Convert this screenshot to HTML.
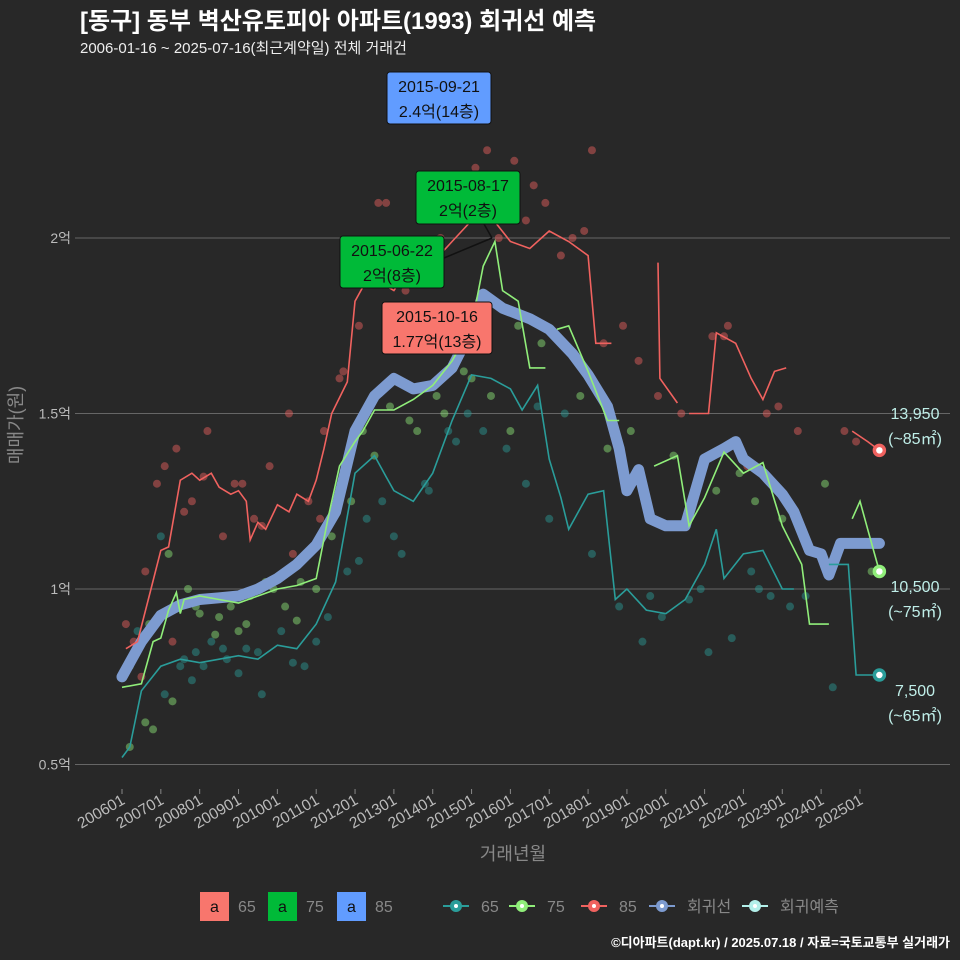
<!DOCTYPE html>
<html><head><meta charset="utf-8">
<style>
body{margin:0;background:#282828;}
svg{display:block;font-family:"Liberation Sans","Noto Sans CJK KR",sans-serif;}
</style></head>
<body>
<svg id="chart" width="960" height="960" viewBox="0 0 960 960">
<rect width="960" height="960" fill="#282828"/>
<text x="80" y="29" fill="#fff" font-size="24" font-weight="bold">[동구] 동부 벽산유토피아 아파트(1993) 회귀선 예측</text>
<text x="80" y="53" fill="#eee" font-size="15">2006-01-16 ~ 2025-07-16(최근계약일) 전체 거래건</text>
<g id="grid"></g><g id="axes"></g><g id="points"></g><g id="lines"></g><g id="annot"></g>
<text transform="translate(22,425) rotate(-90)" fill="#888" font-size="18" text-anchor="middle">매매가(원)</text>
<text x="513" y="860" fill="#888" font-size="18" text-anchor="middle">거래년월</text>
<g id="legend"></g>
<text x="950" y="947" fill="#fff" font-size="13" font-weight="bold" text-anchor="end">©디아파트(dapt.kr) / 2025.07.18 / 자료=국토교통부 실거래가</text>
</svg>
<script>
const yTicks=[0.5,1,1.5,2];
const yTickLabels=["0.5억","1억","1.5억","2억"];
const xTickLabels=["200601","200701","200801","200901","201001","201101","201201","201301","201401","201501","201601","201701","201801","201901","202001","202101","202201","202301","202401","202501"];
const regT=[2006.0,2006.5,2007.0,2007.5,2008.0,2008.5,2009.0,2009.5,2010.0,2010.5,2011.0,2011.5,2012.0,2012.5,2013.0,2013.5,2014.0,2014.5,2015.0,2015.3,2015.8,2016.5,2017.0,2017.6,2018.0,2018.5,2018.8,2019.0,2019.3,2019.6,2020.0,2020.5,2021.0,2021.5,2021.8,2022.0,2022.5,2023.0,2023.3,2023.7,2024.0,2024.2,2024.5,2025.0,2025.5];
const regV=[0.75,0.85,0.925,0.955,0.97,0.975,0.98,1.0,1.03,1.07,1.125,1.22,1.45,1.55,1.6,1.57,1.58,1.63,1.74,1.84,1.8,1.77,1.74,1.67,1.61,1.52,1.4,1.28,1.34,1.2,1.18,1.18,1.37,1.4,1.42,1.37,1.33,1.27,1.22,1.11,1.1,1.04,1.13,1.13,1.13];
const s85=[[[2006.1,0.83],[2006.4,0.85],[2006.7,0.98],[2007.0,1.11],[2007.2,1.12],[2007.5,1.31],[2007.8,1.33],[2008.0,1.31],[2008.3,1.33],[2008.5,1.29],[2008.8,1.27],[2009.0,1.28],[2009.2,1.25],[2009.3,1.14],[2009.5,1.19],[2009.7,1.17],[2010.0,1.24],[2010.3,1.22],[2010.5,1.27],[2010.8,1.25],[2011.0,1.31],[2011.2,1.4],[2011.4,1.5],[2011.8,1.59],[2012.0,1.82],[2012.2,1.86],[2012.5,1.91],[2012.7,1.87],[2013.0,1.85],[2013.3,1.9],[2013.5,1.88],[2014.0,1.93],[2014.5,1.99],[2015.0,2.05],[2015.5,2.06],[2016.0,1.99],[2016.5,1.97],[2017.0,2.02],[2017.5,1.99],[2018.0,1.95],[2018.2,1.7],[2018.6,1.7]],
 [[2019.8,1.93],[2019.85,1.6],[2020.3,1.53]],[[2020.6,1.5],[2021.1,1.5],[2021.3,1.73],[2021.8,1.7],[2022.2,1.6],[2022.5,1.54],[2022.8,1.62],[2023.1,1.63]],
 [[2024.8,1.45],[2025.2,1.42],[2025.5,1.395]]];
const s75=[[[2006.0,0.72],[2006.5,0.73],[2006.8,0.85],[2007.0,0.86],[2007.2,0.94],[2007.4,0.99],[2007.5,0.93],[2007.6,0.97],[2008.0,0.98],[2008.5,0.97],[2009.0,0.96],[2009.5,0.98],[2010.0,1.0],[2010.5,1.01],[2011.0,1.03],[2011.3,1.2],[2011.6,1.35],[2012.0,1.42],[2012.2,1.45],[2012.5,1.51],[2013.0,1.51],[2013.5,1.54],[2014.0,1.58],[2014.5,1.65],[2015.0,1.75],[2015.3,1.92],[2015.6,1.99],[2015.8,1.85],[2016.2,1.82],[2016.5,1.63],[2016.9,1.63]],
 [[2017.2,1.74],[2017.5,1.75],[2018.0,1.62],[2018.5,1.48],[2018.8,1.48]],[[2019.7,1.35],[2020.3,1.38],[2020.6,1.18],[2021.0,1.26],[2021.5,1.39],[2022.0,1.33],[2022.5,1.36],[2023.0,1.18],[2023.5,1.07],[2023.7,0.9],[2024.2,0.9]],
 [[2024.8,1.2],[2025.0,1.25],[2025.2,1.17],[2025.5,1.05]]];
const s65=[[[2006.0,0.52],[2006.2,0.55],[2006.5,0.71],[2007.0,0.78],[2007.5,0.8],[2008.0,0.79],[2008.5,0.8],[2009.0,0.81],[2009.5,0.8],[2010.0,0.84],[2010.5,0.83],[2011.0,0.9],[2011.5,1.02],[2012.0,1.33],[2012.5,1.38],[2012.8,1.32],[2013.0,1.28],[2013.5,1.25],[2014.0,1.33],[2014.5,1.48],[2015.0,1.61],[2015.5,1.6],[2016.0,1.57],[2016.3,1.51],[2016.7,1.58],[2017.0,1.37],[2017.3,1.26],[2017.5,1.17],[2017.8,1.23],[2018.0,1.27],[2018.4,1.28],[2018.7,0.97],[2019.0,1.0],[2019.5,0.94],[2020.0,0.93],[2020.5,0.97],[2021.0,1.07],[2021.3,1.17],[2021.5,1.03],[2022.0,1.1],[2022.5,1.11],[2023.0,1.0],[2023.3,1.0]],
 [[2024.2,1.07],[2024.7,1.07],[2024.9,0.755],[2025.5,0.755]]];
const ptsT=[2006.1,2006.3,2006.6,2006.9,2007.1,2007.4,2007.8,2008.2,2008.6,2009.1,2009.4,2009.8,2010.3,2010.8,2011.2,2011.6,2012.1,2012.4,2012.8,2013.3,2013.7,2014.2,2014.6,2015.1,2015.4,2015.7,2016.1,2016.4,2016.9,2017.3,2017.6,2018.1,2018.9,2019.3,2019.8,2020.4,2021.2,2021.6,2022.1,2022.6,2023.4,2024.9,
 2006.2,2006.7,2007.2,2007.9,2008.5,2009.2,2009.9,2010.6,2011.4,2012.2,2012.9,2013.6,2014.3,2015.0,2015.5,2016.2,2016.8,2017.8,2019.1,2020.2,2021.3,2022.3,2023.0,2024.1,2025.3,
 2006.2,2006.6,2007.1,2007.5,2007.9,2008.3,2008.7,2009.2,2009.6,2010.1,2010.7,2011.3,2011.8,2012.3,2012.7,2013.2,2013.8,2014.4,2014.9,2015.3,2015.9,2016.4,2017.0,2017.4,2018.1,2018.8,2019.4,2019.9,2020.6,2021.1,2021.7,2022.2,2022.7,2023.2,2024.3,
 2006.4,2007.0,2007.6,2008.1,2008.9,2009.6,2010.4,2011.1,2011.7,2012.6,2013.1,2013.9,2014.7,2015.8,2016.6,2017.9,2018.4,2021.5,2022.9,2024.6,
 2006.5,2007.3,2007.7,2008.0,2008.4,2008.8,2009.0,2009.3,2009.7,2010.2,2010.5,2011.0,2011.9,2012.5,2013.4,2014.1,2014.8,2016.0,2018.5,2021.9,
 2006.8,2007.3,2007.6,2007.8,2008.1,2008.6,2009.0,2009.5,2010.4,2011.0,2012.1,2013.0,2013.9,2014.6,2016.7,2019.6,2020.9,2022.4,2023.6];
const ptsV=[0.9,0.85,1.05,1.3,1.35,1.4,1.25,1.45,1.15,1.3,1.2,1.35,1.5,1.25,1.45,1.6,1.75,1.95,2.1,1.85,1.9,2.0,2.12,2.2,2.25,2.0,2.22,2.05,2.1,1.95,2.0,2.25,1.75,1.65,1.55,1.5,1.72,1.75,1.35,1.5,1.45,1.42,
 0.78,0.9,1.1,0.95,0.92,0.9,1.0,1.02,1.15,1.45,1.52,1.45,1.5,1.6,1.55,1.75,1.7,1.55,1.45,1.38,1.28,1.25,1.2,1.3,1.05,
 0.55,0.62,0.7,0.78,0.82,0.85,0.8,0.83,0.7,0.88,0.78,0.92,1.05,1.2,1.25,1.1,1.3,1.45,1.5,1.45,1.4,1.3,1.2,1.5,1.1,0.95,0.85,0.92,0.97,0.82,0.86,1.05,0.98,0.95,0.72,
 0.88,1.15,1.22,1.32,1.3,1.18,1.1,1.2,1.62,2.1,1.8,1.95,2.15,2.05,2.15,2.02,1.7,1.72,1.52,1.45,
 0.75,0.85,1.0,0.93,0.87,0.95,0.88,0.98,1.02,0.95,0.91,1.0,1.25,1.38,1.48,1.55,1.62,1.45,1.4,1.33,
 0.6,0.68,0.8,0.74,0.78,0.83,0.76,0.82,0.79,0.85,1.08,1.15,1.28,1.42,1.52,0.98,1.0,1.0,0.98];
const ptsC=[].concat(Array(42).fill(85),Array(27).fill(75),Array(35).fill(65),Array(20).fill(85),Array(20).fill(75),Array(19).fill(65));

const NS="http://www.w3.org/2000/svg";
const X0=122,PXY=38.84,PL=75,PR=950;
function xs(t){return X0+(t-2006)*PXY;}
function ys(v){return 589-(v-1)*351;}
function mk(tag,attrs,parent){const e=document.createElementNS(NS,tag);for(const k in attrs)e.setAttribute(k,attrs[k]);parent.appendChild(e);return e;}
const col={65:"#2a9d9a",75:"#90ee7a",85:"#f0625f"};
const grid=document.getElementById('grid'),axes=document.getElementById('axes');
yTicks.forEach((v,i)=>{
  const l=mk('line',{x1:PL,x2:PR,y1:ys(v),y2:ys(v),stroke:'#666','stroke-width':1},grid);
  
  
  const t=mk('text',{x:71,y:ys(v)+5,fill:'#bbb','font-size':14,'text-anchor':'end'},axes);
  t.textContent=yTickLabels[i];
  
  
});
xTickLabels.forEach((s,i)=>{
  const x=xs(2006+i);
  const l=mk('line',{x1:x,x2:x,y1:789,y2:794,stroke:'#888'},axes);
  
  
  const t=mk('text',{transform:`translate(${x+4},${803}) rotate(-30)`,fill:'#bbb','font-size':15.5,'text-anchor':'end'},axes);
  t.textContent=s;
  
  
});
const pg=document.getElementById('points');
ptsT.forEach((t,i)=>{
  const c=mk('circle',{cx:xs(t),cy:ys(ptsV[i]),r:4,fill:col[ptsC[i]],opacity:0.45},pg);
  
  
});
const lg=document.getElementById('lines');
function path(pts){return pts.map((p,i)=>(i?'L':'M')+xs(p[0]).toFixed(1)+','+ys(p[1]).toFixed(1)).join('');}
const rp=mk('path',{d:path(regT.map((t,i)=>[t,regV[i]])),fill:'none',stroke:'#7d9bd0','stroke-width':11,'stroke-linejoin':'round','stroke-linecap':'round'},lg);


[[s65,65],[s75,75],[s85,85]].forEach(([segs,k])=>{segs.forEach(seg=>{
  const p=mk('path',{d:path(seg),fill:'none',stroke:col[k],'stroke-width':1.6},lg);
  
  
});
  const last=segs[segs.length-1][segs[segs.length-1].length-1];
  const d=mk('circle',{cx:xs(last[0]),cy:ys(last[1]),r:5,fill:'#fff',stroke:col[k],'stroke-width':3.5},lg);
  
  
});
const an=document.getElementById('annot');
function box(x,y,w,h,fill,l1,l2,name){
  const g=mk('g',{},an);
  
  
  mk('rect',{x:x,y:y,width:w,height:h,rx:3,fill:fill,stroke:'#111'},g);
  const a=mk('text',{x:x+w/2,y:y+20,'font-size':16,'text-anchor':'middle',fill:'#111'},g);a.textContent=l1;
  const b=mk('text',{x:x+w/2,y:y+45,'font-size':16,'text-anchor':'middle',fill:'#111'},g);b.textContent=l2;
}
mk('line',{x1:444,y1:258,x2:492,y2:238,stroke:'#111','stroke-width':1.5},an);
mk('line',{x1:484,y1:224,x2:492,y2:238,stroke:'#111','stroke-width':1.5},an);
box(387,72,104,52,'#619cff','2015-09-21','2.4억(14층)','annotation-max-85');
box(416,171,104,53,'#00ba38','2015-08-17','2억(2층)','annotation-75-a');
box(340,236,104,52,'#00ba38','2015-06-22','2억(8층)','annotation-75-b');
box(382,302,110,52,'#f8766d','2015-10-16','1.77억(13층)','annotation-65');
[["13,950","(~85㎡)",419],["10,500","(~75㎡)",592],["7,500","(~65㎡)",696]].forEach(r=>{
  const a=mk('text',{x:915,y:r[2],fill:'#bfeee8','font-size':16,'text-anchor':'middle'},an);a.textContent=r[0];
  
  
  const b=mk('text',{x:915,y:r[2]+25,fill:'#bfeee8','font-size':16,'text-anchor':'middle'},an);b.textContent=r[1];
  
  
});
const L=document.getElementById('legend');
[["#f8766d","65",200],["#00ba38","75",268],["#619cff","85",337]].forEach(r=>{
  const g=mk('g',{},L);
  
  
  mk('rect',{x:r[2],y:892,width:29,height:29,fill:r[0]},g);
  const a=mk('text',{x:r[2]+14.5,y:912,'font-size':16,'text-anchor':'middle',fill:'#111'},g);a.textContent='a';
  const b=mk('text',{x:r[2]+38,y:912,'font-size':16,fill:'#888'},g);b.textContent=r[1];
});
[["#2a9d9a","65",456],["#90ee7a","75",522],["#f0625f","85",594],["#7d9bd0","회귀선",662],["#b3f0ea","회귀예측",755]].forEach(r=>{
  const g=mk('g',{},L);
  
  
  mk('line',{x1:r[2]-13,x2:r[2]+13,y1:906,y2:906,stroke:r[0],'stroke-width':2},g);
  mk('circle',{cx:r[2],cy:906,r:6,fill:r[0]},g);
  mk('circle',{cx:r[2],cy:906,r:2,fill:'#fff'},g);
  const b=mk('text',{x:r[2]+25,y:912,'font-size':16,fill:'#888'},g);b.textContent=r[1];
});
</script>
</body></html>
